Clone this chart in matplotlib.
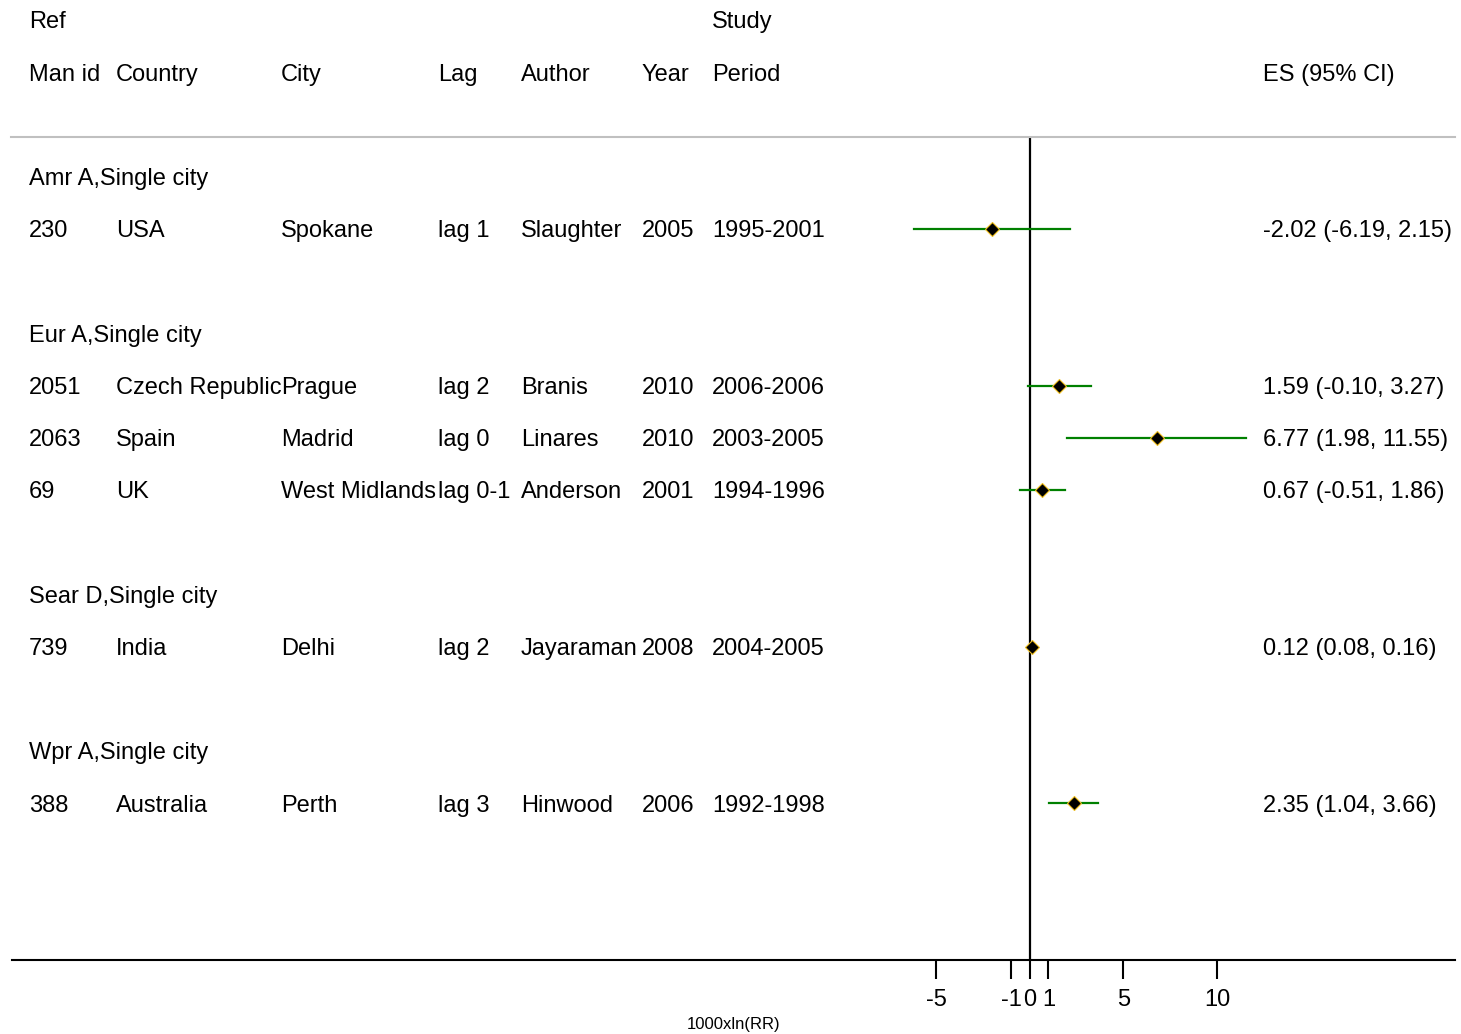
import matplotlib
matplotlib.use("Agg")
import matplotlib.pyplot as plt
from matplotlib.transforms import blended_transform_factory

plt.rcParams['font.family'] = ['Liberation Sans', 'DejaVu Sans']

# Study data
groups = ["Amr A,Single city", "Eur A,Single city", "Sear D,Single city", "Wpr A,Single city"]
group_of = [0, 1, 1, 1, 2, 3]
man_id = ["230", "2051", "2063", "69", "739", "388"]
country = ["USA", "Czech Republic", "Spain", "UK", "India", "Australia"]
city = ["Spokane", "Prague", "Madrid", "West Midlands", "Delhi", "Perth"]
lag = ["lag 1", "lag 2", "lag 0", "lag 0-1", "lag 2", "lag 3"]
author = ["Slaughter", "Branis", "Linares", "Anderson", "Jayaraman", "Hinwood"]
year = ["2005", "2010", "2010", "2001", "2008", "2006"]
period = ["1995-2001", "2006-2006", "2003-2005", "1994-1996", "2004-2005", "1992-1998"]
es = [-2.02, 1.59, 6.77, 0.67, 0.12, 2.35]
lo = [-6.19, -0.10, 1.98, -0.51, 0.08, 1.04]
hi = [2.15, 3.27, 11.55, 1.86, 0.16, 3.66]
xticks = [-5, -1, 0, 1, 5, 10]

W, H = 1461, 1034
fig = plt.figure(figsize=(W / 100, H / 100), dpi=100)
ax = fig.add_axes([12 / W, 1 - 960 / H, (1455 - 12) / W, (960 - 137) / H])

# row layout: headers at rows 0-1, then group header + studies with a gap
rows = []
group_rows = []
r = 3
prev = None
for i, g in enumerate(group_of):
    if g != prev:
        if prev is not None:
            r += 1
        group_rows.append(r)
        r += 1
        prev = g
    rows.append(r)
    r += 1

ax.set_ylim(18.0, 2.24)
ax.set_xlim((12 - 1029.7) / 18.73, (1455 - 1029.7) / 18.73)

for s in ["top", "left", "right"]:
    ax.spines[s].set_visible(False)
ax.spines["bottom"].set_linewidth(1.5)
ax.set_yticks([])
ax.set_xticks(xticks)
ax.set_xticklabels([str(t) for t in xticks], fontsize=17)
ax.tick_params(axis="x", direction="out", length=14, width=1.5, pad=7)
ax.set_xlabel("1000xln(RR)", fontsize=12, labelpad=4)

# null line
ax.axvline(0, color="black", lw=1.6, zorder=2)

# confidence intervals and point estimates
for i in range(len(es)):
    ax.plot([lo[i], hi[i]], [rows[i], rows[i]], color="#008000", lw=1.6, zorder=3)
    ax.plot(es[i], rows[i], marker="D", ms=7, mfc="black", mec="#f0c020", mew=0.8, zorder=4)

# text columns
tr = blended_transform_factory(fig.transFigure, ax.transData)
cols = [29, 116, 281, 438, 521, 642, 712]
fs = 17
dy = 0.045  # nudge text down to sit centred on its row


def put(xpix, y, s):
    ax.text(xpix / W, y + dy, s, transform=tr, fontsize=fs, ha="left", va="center",
            clip_on=False)


put(29, 0, "Ref")
put(712, 0, "Study")
for x, s in zip(cols, ["Man id", "Country", "City", "Lag", "Author", "Year", "Period"]):
    put(x, 1, s)
put(1263, 1, "ES (95% CI)")

ax.plot([11 / W, 1455 / W], [2.24, 2.24], transform=tr, color="#c0c0c0", lw=1.5,
        clip_on=False)

for g, gr in zip(groups, group_rows):
    put(29, gr, g)

for i in range(len(es)):
    y = rows[i]
    for x, s in zip(cols, [man_id[i], country[i], city[i], lag[i], author[i], year[i], period[i]]):
        put(x, y, s)
    put(1263, y, f"{es[i]:.2f} ({lo[i]:.2f}, {hi[i]:.2f})")

fig.savefig("out.png", dpi=100)
